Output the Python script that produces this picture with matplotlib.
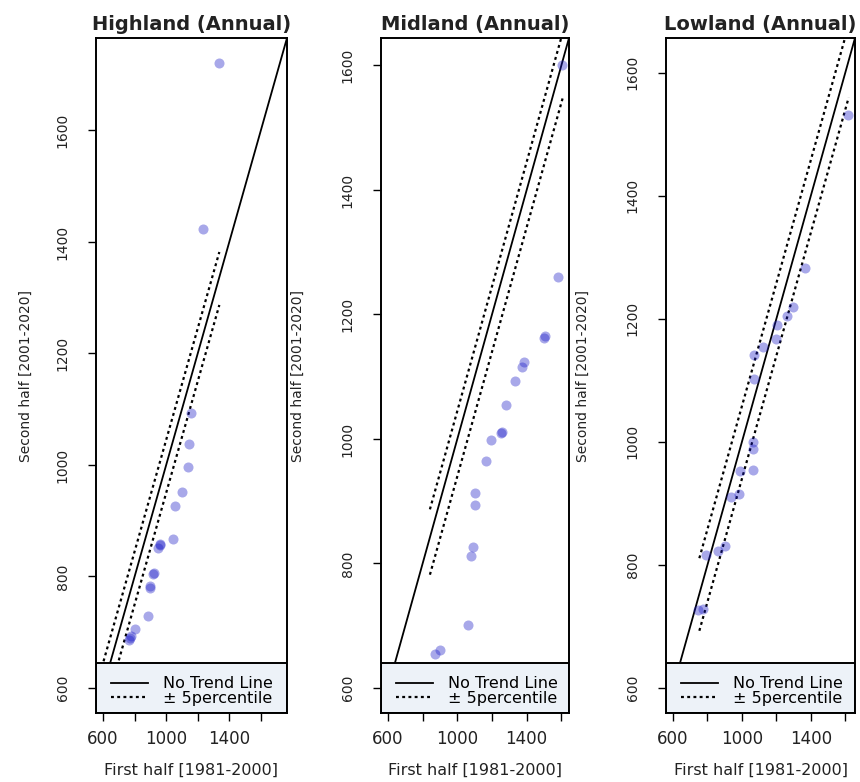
import matplotlib
matplotlib.use('Agg')
import matplotlib.pyplot as plt
from matplotlib import font_manager
from matplotlib.lines import Line2D
from matplotlib.patches import Rectangle


titles = ['Highland (Annual)', 'Midland (Annual)', 'Lowland (Annual)']

# sorted annual values, first half (x) vs second half (y)
highland_first = [762, 770, 776, 805, 884, 896, 899, 916, 920, 950, 959, 963, 1044, 1055, 1100, 1138, 1145, 1158, 1235, 1337]
highland_second = [686, 690, 693, 706, 730, 780, 783, 804, 806, 851, 857, 859, 867, 927, 952, 996, 1038, 1093, 1423, 1721]

midland_first = [874, 899, 1062, 1081, 1090, 1100, 1100, 1163, 1192, 1253, 1257, 1282, 1334, 1372, 1383, 1500, 1504, 1581, 1604]
midland_second = [654, 661, 701, 812, 826, 894, 914, 965, 999, 1010, 1012, 1054, 1093, 1116, 1123, 1163, 1165, 1261, 1600]

lowland_first = [744, 776, 792, 860, 904, 937, 982, 990, 1064, 1067, 1067, 1073, 1073, 1120, 1199, 1205, 1261, 1294, 1368, 1616]
lowland_second = [727, 728, 817, 822, 831, 910, 916, 952, 954, 989, 1000, 1103, 1141, 1154, 1167, 1190, 1204, 1220, 1282, 1532]

# +/- 5 percentile offsets and the x span they were drawn over
band_upper = [45, 45, 58]
band_lower = [-50, -60, -60]
band_start = [560, 842, 753]
band_end = [1337, 1607, 1620]

lower_limit = 600
tick_values = [600, 800, 1000, 1200, 1400, 1600]
xtick_labels = ['600', '', '1000', '', '1400', '']
legend_labels = ['No Trend Line', '± 5percentile']


def pick_narrow():
    names = {f.name for f in font_manager.fontManager.ttflist}
    for n in ['Liberation Sans Narrow', 'DejaVu Sans Condensed']:
        if n in names:
            return n, 1.15
    return 'DejaVu Sans', 1.0


def main():
    narrow, scale = pick_narrow()

    fig = plt.figure(figsize=(8.6, 7.82), dpi=100)
    W, H = 860.0, 782.0
    boxes = [(96, 287), (381, 569), (666, 855)]
    top, bottom = 38, 713
    ylab_x = [-0.33, -0.404, -0.402]
    dots = (0, (1.3, 1.5))

    data = [(highland_first, highland_second),
            (midland_first, midland_second),
            (lowland_first, lowland_second)]

    for i in range(3):
        l, r = boxes[i]
        ax = fig.add_axes([l / W, 1 - bottom / H, (r - l) / W, (bottom - top) / H])
        x, y = data[i]

        hi = max(max(x), max(y))
        pad = 0.04 * (hi - lower_limit)
        ax.set_xlim(lower_limit - pad, hi + pad)
        ax.set_ylim(lower_limit - pad, hi + pad)

        ax.scatter(x, y, s=52, color=(0.1, 0.1, 0.78), alpha=0.38, linewidths=0, zorder=3)

        ax.axline((0, 0), slope=1, color='black', lw=1.3, zorder=2)
        bx = [band_start[i], band_end[i]]
        ax.plot(bx, [v + band_upper[i] for v in bx], color='black', lw=1.6,
                linestyle=dots, zorder=2)
        ax.plot(bx, [v + band_lower[i] for v in bx], color='black', lw=1.6,
                linestyle=dots, zorder=2)

        ax.set_title(titles[i], fontsize=14, fontweight='bold', color='#222222', pad=6)

        ax.set_xticks(tick_values)
        ax.set_xticklabels(xtick_labels, fontsize=12, color='#222222')
        ax.set_yticks(tick_values)
        ax.set_yticklabels([str(v) for v in tick_values], rotation=90, va='center',
                           fontsize=10 * scale, family=narrow, color='#222222')
        ax.tick_params(axis='x', length=6, width=1, pad=6)
        ax.tick_params(axis='y', length=6, width=1, pad=13)

        ax.set_xlabel('First half [1981-2000]', fontsize=11.5, color='#222222', labelpad=11)
        ax.set_ylabel('Second half [2001-2020]', fontsize=10 * scale, family=narrow, color='#222222')
        ax.yaxis.set_label_coords(ylab_x[i], 0.5)

        for s in ax.spines.values():
            s.set_linewidth(1.4)
            s.set_zorder(6)

        # legend box across the bottom of the panel
        box_h = 50.0 / (bottom - top)
        ax.add_patch(Rectangle((0, 0), 1, box_h, transform=ax.transAxes,
                               facecolor='#edf2f8', edgecolor='black', lw=1.4, zorder=4))
        handles = [Line2D([], [], color='black', lw=1.3),
                   Line2D([], [], color='black', lw=1.6, linestyle=dots)]
        leg = ax.legend(handles, legend_labels, loc='center left',
                        bbox_to_anchor=(15.0 / (r - l), box_h / 2 - 3.0 / (bottom - top)),
                        frameon=False, borderaxespad=0, borderpad=0, fontsize=11.5,
                        handlelength=2.3, handletextpad=0.95, labelspacing=-0.05)
        leg.set_zorder(5)

    fig.savefig('out.png', dpi=100)


if __name__ == "__main__":
    main()
